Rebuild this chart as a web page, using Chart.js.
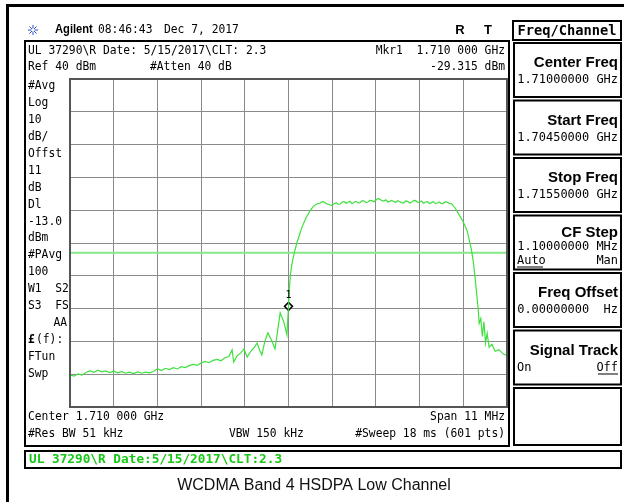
<!DOCTYPE html>
<html>
<head>
<meta charset="utf-8">
<script src="https://cdn.jsdelivr.net/npm/chart.js@4.4.0/dist/chart.umd.min.js"></script>
<style>
  html, body { margin: 0; padding: 0; background: #fff; }
  canvas { display: block; }
</style>
</head>
<body>
<canvas id="sa" width="624" height="502"></canvas>
<script>
// Eixo X: 1704.5 .. 1715.5 MHz (span 11 MHz), eixo Y: Ref 40 dBm, 10 dB/div
const freqMin = 1704.5;
const freqMax = 1715.5;
const refLevel = 40;
const dbPerDiv = 10;
const displayLine = -13.0;

const markerFreq = 1710.0;
const markerLevel = -29.315;

// Traço medido (MHz / dBm)
const freqMHz = [
  1704.5, 1704.6, 1704.7, 1704.8, 1704.9, 1705.0, 1705.1, 1705.2, 1705.3, 1705.4,
  1705.5, 1705.6, 1705.7, 1705.8, 1705.9, 1706.0, 1706.1, 1706.2, 1706.3, 1706.4,
  1706.5, 1706.6, 1706.7, 1706.8, 1706.9, 1707.0, 1707.1, 1707.2, 1707.3, 1707.4,
  1707.5, 1707.6, 1707.7, 1707.8, 1707.9, 1708.0, 1708.1, 1708.2, 1708.3, 1708.4,
  1708.5, 1708.58, 1708.62, 1708.7, 1708.8, 1708.88, 1708.96, 1709.05, 1709.14, 1709.21,
  1709.27, 1709.33, 1709.4, 1709.48, 1709.57, 1709.66, 1709.73, 1709.79, 1709.88, 1709.96,
  1710.0, 1710.02, 1710.05, 1710.09, 1710.15, 1710.21, 1710.28, 1710.34, 1710.44, 1710.54,
  1710.62, 1710.7,
  1710.8, 1710.85, 1710.9, 1710.95, 1711.0, 1711.05, 1711.1, 1711.15, 1711.2, 1711.25,
  1711.3, 1711.35, 1711.4, 1711.45, 1711.5, 1711.55, 1711.6, 1711.65, 1711.7, 1711.75,
  1711.8, 1711.85, 1711.9, 1711.95, 1712.0, 1712.05, 1712.1, 1712.15, 1712.2, 1712.25,
  1712.3, 1712.35, 1712.4, 1712.45, 1712.5, 1712.55, 1712.6, 1712.65, 1712.7, 1712.75,
  1712.8, 1712.85, 1712.9, 1712.95, 1713.0, 1713.05, 1713.1, 1713.15, 1713.2, 1713.25,
  1713.3, 1713.35, 1713.4, 1713.45, 1713.5, 1713.55, 1713.6, 1713.65, 1713.7, 1713.75,
  1713.8, 1713.85, 1713.9, 1713.95, 1714.0, 1714.05, 1714.1,
  1714.2, 1714.3, 1714.4, 1714.5, 1714.6, 1714.65,
  1714.7, 1714.77, 1714.8, 1714.84, 1714.88, 1714.92, 1714.96, 1715.0, 1715.05, 1715.12,
  1715.2, 1715.3, 1715.4, 1715.5
];
const levelDbm = [
  -50.2, -50.6, -49.9, -50.3, -49.5, -49.0, -49.4, -48.8, -49.3, -49.0,
  -49.5, -49.1, -49.6, -49.2, -49.7, -49.4, -49.8, -49.3, -49.7, -49.4,
  -49.6, -49.2, -48.3, -48.9, -48.2, -48.6, -48.0, -48.4, -47.7, -48.0,
  -47.4, -47.0, -47.3, -46.6, -46.1, -46.5, -45.8, -45.5, -45.9, -45.0,
  -44.6, -42.6, -46.3, -44.5, -43.5, -42.3, -44.8, -43.0, -41.8, -40.5,
  -42.6, -44.1, -40.2, -37.4, -39.6, -42.3, -36.5, -31.3, -34.0, -38.0,
  -29.315, -24.0, -19.5, -16.1, -12.8, -10.0, -7.4, -5.1, -2.4, -0.2,
  1.1, 1.8,
  2.2, 2.6, 2.5, 2.0, 1.8, 1.6, 1.4, 2.0, 2.3, 1.8,
  1.9, 2.5, 2.6, 2.1, 2.4, 2.7, 2.0, 2.4, 2.7, 2.2,
  2.3, 2.9, 2.8, 2.3, 2.5, 3.0, 2.9, 2.6, 3.1, 3.5,
  3.4, 2.9, 2.8, 3.2, 2.5, 2.7, 3.0, 2.6, 2.4, 2.9,
  2.6, 2.3, 2.2, 2.8, 2.7, 2.2, 2.4, 3.0, 2.9, 2.4,
  2.5, 2.8, 2.1, 2.5, 2.6, 2.0, 2.3, 2.6, 2.0, 2.2,
  2.5, 2.0, 2.1, 2.6, 2.4, 2.1, 2.0,
  0.6, -1.5, -3.6, -6.4, -11.8, -15.5,
  -21.0, -29.5, -34.5, -33.0, -38.5, -34.0, -40.5, -37.5, -41.8, -40.9,
  -43.0, -42.5, -43.8, -44.3
];

// Textos da tela do analisador
const leftLabels = ['#Avg', 'Log', '10', 'dB/', 'Offst', '11', 'dB', 'Dl', '-13.0', 'dBm',
  '#PAvg', '100', 'W1  S2', 'S3  FS', '', '', 'FTun', 'Swp'];
const softKeys = [
  { title: 'Center Freq', value: '1.71000000 GHz' },
  { title: 'Start Freq', value: '1.70450000 GHz' },
  { title: 'Stop Freq', value: '1.71550000 GHz' },
  { title: 'CF Step', value: '1.10000000 MHz' },
  { title: 'Freq Offset', value: '0.00000000  Hz' },
  { title: 'Signal Track', value: '' },
  { title: '', value: '' }
];

const MONO = '13px "DejaVu Sans Mono"';
const SANS = '"Liberation Sans", Arial, sans-serif';

function txt(ctx, s, x, y, o) {
  o = o || {};
  ctx.save();
  ctx.font = o.font || MONO;
  ctx.fillStyle = o.color || '#000';
  ctx.textBaseline = 'middle';
  ctx.textAlign = o.align || 'left';
  ctx.translate(x, y);
  ctx.scale(o.sx || 0.87, 1);
  ctx.fillText(s, 0, 0);
  ctx.restore();
  return ctx;
}

function box(ctx, x, y, w, h, lw) {
  ctx.save();
  ctx.strokeStyle = '#000';
  ctx.lineWidth = lw || 2;
  ctx.strokeRect(x, y, w, h);
  ctx.restore();
}

// Desenha a moldura, textos e softkeys em volta do gráfico
const screenPlugin = {
  id: 'screen',
  beforeDraw(chart) {
    const ctx = chart.ctx;
    ctx.save();
    ctx.fillStyle = '#fff';
    ctx.fillRect(0, 0, chart.width, chart.height);
    ctx.restore();
  },
  afterDatasetsDraw(chart) {
    const ctx = chart.ctx;
    const xs = chart.scales.x, ys = chart.scales.y;
    // número do marcador
    txt(ctx, '1', xs.getPixelForValue(markerFreq), ys.getPixelForValue(markerLevel) - 11,
      { font: '10px "DejaVu Sans Mono"', align: 'center', sx: 1 });
  },
  afterDraw(chart) {
    const ctx = chart.ctx;
    const a = chart.chartArea;

    // moldura externa
    ctx.save();
    ctx.fillStyle = '#000';
    ctx.fillRect(6, 4, 618, 3);
    ctx.fillRect(6, 4, 3, 498);
    ctx.restore();

    // moldura da área do traço
    ctx.save();
    ctx.strokeStyle = '#555';
    ctx.lineWidth = 2;
    ctx.strokeRect(a.left, a.top, a.right - a.left, a.bottom - a.top);
    ctx.restore();

    // cabeçalho
    ctx.save();
    ctx.strokeStyle = '#2a4fd0';
    ctx.lineWidth = 1;
    for (let i = 0; i < 8; i++) {
      const ang = i * Math.PI / 4;
      ctx.beginPath();
      ctx.moveTo(33 + Math.cos(ang) * 1.5, 30 + Math.sin(ang) * 1.5);
      ctx.lineTo(33 + Math.cos(ang) * 5, 30 + Math.sin(ang) * 5);
      ctx.stroke();
    }
    ctx.restore();
    txt(ctx, 'Agilent', 55, 30, { font: 'bold 12px ' + SANS, sx: 0.93 });
    txt(ctx, '08:46:43', 98, 30);
    txt(ctx, 'Dec 7, 2017', 164, 30);
    txt(ctx, 'R', 460, 30, { font: 'bold 13px ' + SANS, sx: 1, align: 'center' });
    txt(ctx, 'T', 488, 30, { font: 'bold 13px ' + SANS, sx: 1, align: 'center' });
    box(ctx, 513, 21, 108, 19);
    txt(ctx, 'Freq/Channel', 567, 31, { font: 'bold 14px "DejaVu Sans Mono"', sx: 0.98, align: 'center' });

    // tela principal
    box(ctx, 25, 41, 484, 405);
    txt(ctx, 'UL 37290\\R Date: 5/15/2017\\CLT: 2.3', 28, 51);
    txt(ctx, 'Mkr1  1.710 000 GHz', 505, 51, { align: 'right' });
    txt(ctx, 'Ref 40 dBm', 28, 67);
    txt(ctx, '#Atten 40 dB', 150, 67);
    txt(ctx, '-29.315 dBm', 505, 67, { align: 'right' });

    leftLabels.forEach((s, i) => {
      if (s) txt(ctx, s, 28, 86 + i * 16.9);
    });
    txt(ctx, 'AA', 67, 86 + 14 * 16.9, { align: 'right' });
    txt(ctx, '£', 28, 86 + 15 * 16.9, { font: 'bold 13px "DejaVu Sans Mono"' });
    txt(ctx, '(f):', 36, 86 + 15 * 16.9);

    txt(ctx, 'Center 1.710 000 GHz', 28, 417);
    txt(ctx, 'Span 11 MHz', 505, 417, { align: 'right' });
    txt(ctx, '#Res BW 51 kHz', 28, 434);
    txt(ctx, 'VBW 150 kHz', 229, 434);
    txt(ctx, '#Sweep 18 ms (601 pts)', 505, 434, { align: 'right' });

    // softkeys
    softKeys.forEach((k, i) => {
      const top = 43 + i * 57.5;
      const three = i === 3;  // CF Step tem três linhas
      box(ctx, 514, top, 107, i === 6 ? 57 : 54);
      if (k.title) txt(ctx, k.title, 618, top + (three ? 17 : 20), { font: 'bold 15px ' + SANS, sx: 1, align: 'right' });
      if (k.value) txt(ctx, k.value, 618, top + (three ? 31 : 37), { align: 'right', sx: 0.92 });
    });
    // CF Step: Auto / Man
    const cfTop = 43 + 3 * 57.5;
    txt(ctx, 'Auto', 517, cfTop + 45, { sx: 0.92 });
    ctx.fillRect(517, cfTop + 51, 26, 1);
    txt(ctx, 'Man', 618, cfTop + 45, { align: 'right', sx: 0.92 });
    // Signal Track: On / Off
    const stTop = 43 + 5 * 57.5;
    txt(ctx, 'On', 517, stTop + 37, { sx: 0.92 });
    txt(ctx, 'Off', 618, stTop + 37, { align: 'right', sx: 0.92 });
    ctx.fillRect(598, stTop + 43, 20, 1);

    // barra de status verde
    box(ctx, 25, 451, 596, 17);
    txt(ctx, 'UL 37290\\R Date:5/15/2017\\CLT:2.3', 29, 460,
      { font: 'bold 13px "DejaVu Sans Mono"', color: '#14c814', sx: 0.98 });

    // legenda
    txt(ctx, 'WCDMA Band 4 HSDPA Low Channel', 314, 486,
      { font: '16px ' + SANS, color: '#111', sx: 1, align: 'center' });
  }
};

const traceData = freqMHz.map((f, i) => ({ x: f, y: levelDbm[i] }));
const divTicks = Array.from({ length: 11 }, (_, i) => freqMin + i * (freqMax - freqMin) / 10);
const dbTicks = Array.from({ length: 11 }, (_, i) => refLevel - i * dbPerDiv);

new Chart(document.getElementById('sa'), {
  type: 'line',
  data: {
    datasets: [
      {
        label: 'Trace',
        data: traceData,
        borderColor: '#3fe03f',
        borderWidth: 1.2,
        pointRadius: 0,
        tension: 0
      },
      {
        label: 'DL',
        data: [{ x: freqMin, y: displayLine }, { x: freqMax, y: displayLine }],
        borderColor: '#86e886',
        borderWidth: 2,
        pointRadius: 0
      },
      {
        label: 'Mkr1',
        data: [{ x: markerFreq, y: markerLevel }],
        showLine: false,
        pointStyle: 'rectRot',
        pointRadius: 4,
        pointBorderWidth: 1.5,
        pointBorderColor: '#000',
        pointBackgroundColor: '#fff'
      }
    ]
  },
  options: {
    responsive: false,
    animation: false,
    devicePixelRatio: 1,
    layout: { padding: { left: 70, top: 79, right: 117, bottom: 95 } },
    plugins: { legend: { display: false }, tooltip: { enabled: false } },
    scales: {
      x: {
        type: 'linear',
        min: freqMin,
        max: freqMax,
        afterBuildTicks: s => { s.ticks = divTicks.map(v => ({ value: v })); },
        ticks: { display: false },
        border: { display: false },
        grid: { color: '#8a8a8a', lineWidth: 1, drawTicks: false }
      },
      y: {
        min: refLevel - 10 * dbPerDiv,
        max: refLevel,
        afterBuildTicks: s => { s.ticks = dbTicks.map(v => ({ value: v })); },
        ticks: { display: false },
        border: { display: false },
        grid: { color: '#8a8a8a', lineWidth: 1, drawTicks: false }
      }
    }
  },
  plugins: [screenPlugin]
});
</script>
</body>
</html>
